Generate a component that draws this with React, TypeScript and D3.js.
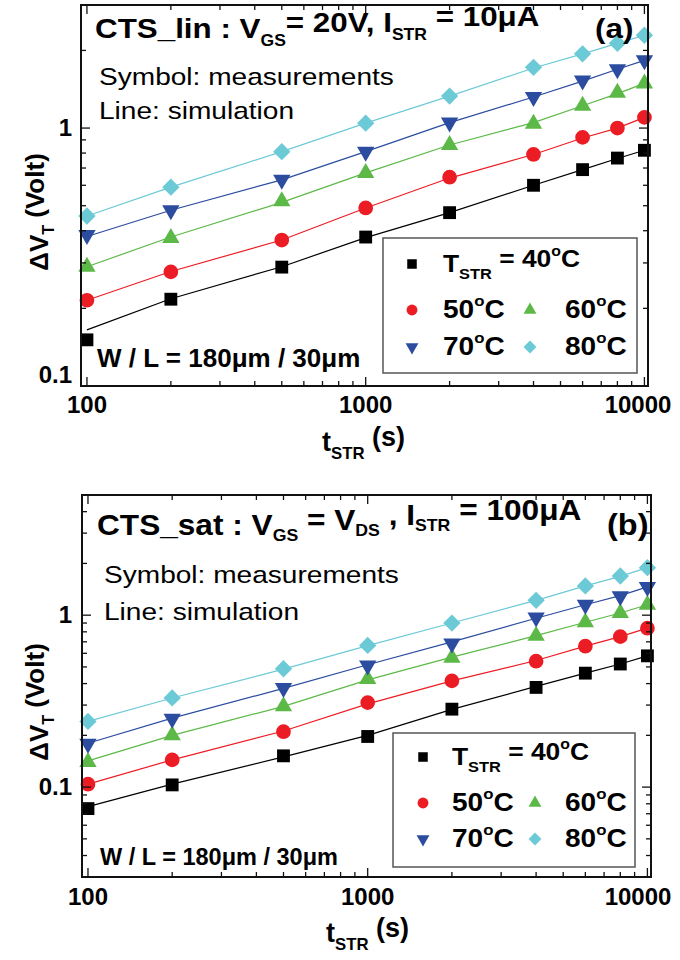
import React from 'react';
import * as d3 from 'd3';

// stress time (s)
const times = [100, 200, 500, 1000, 2000, 4000, 6000, 8000, 10000];
const temps = ['40', '50', '60', '70', '80'];
const colors = ['#000000', '#ec1c24', '#5cb947', '#2b4c9f', '#6ccad6'];
const shapes = ['square', 'circle', 'up', 'down', 'diamond'];

// (a) CTS_lin, measured dVT (V)
const linMeas40 = [0.151, 0.217, 0.289, 0.378, 0.47, 0.6, 0.69, 0.765, 0.82];
const linMeas50 = [0.215, 0.277, 0.368, 0.49, 0.645, 0.79, 0.92, 1.0, 1.1];
const linMeas60 = [0.29, 0.375, 0.52, 0.67, 0.86, 1.04, 1.22, 1.37, 1.49];
const linMeas70 = [0.385, 0.48, 0.63, 0.81, 1.05, 1.32, 1.53, 1.69, 1.83];
const linMeas80 = [0.456, 0.59, 0.81, 1.045, 1.33, 1.72, 1.94, 2.13, 2.29];
// (a) simulation lines
const linSim40 = [0.165, 0.218, 0.29, 0.376, 0.47, 0.6, 0.69, 0.762, 0.82];
const linSim50 = [0.215, 0.278, 0.368, 0.49, 0.64, 0.79, 0.915, 1.0, 1.1];
const linSim60 = [0.29, 0.378, 0.515, 0.67, 0.86, 1.05, 1.22, 1.36, 1.49];
const linSim70 = [0.38, 0.48, 0.63, 0.81, 1.05, 1.32, 1.52, 1.69, 1.83];
const linSim80 = [0.456, 0.59, 0.81, 1.045, 1.33, 1.71, 1.94, 2.13, 2.29];

// (b) CTS_sat, measured dVT (V)
const satMeas40 = [0.075, 0.103, 0.152, 0.197, 0.284, 0.38, 0.46, 0.52, 0.58];
const satMeas50 = [0.104, 0.144, 0.21, 0.31, 0.415, 0.54, 0.66, 0.75, 0.84];
const satMeas60 = [0.14, 0.2, 0.295, 0.426, 0.566, 0.76, 0.91, 1.03, 1.15];
const satMeas70 = [0.179, 0.25, 0.377, 0.51, 0.685, 0.97, 1.15, 1.29, 1.46];
const satMeas80 = [0.241, 0.33, 0.488, 0.667, 0.9, 1.22, 1.48, 1.69, 1.89];
// (b) simulation lines
const satSim40 = [0.077, 0.104, 0.15, 0.2, 0.283, 0.385, 0.46, 0.52, 0.58];
const satSim50 = [0.104, 0.144, 0.212, 0.305, 0.415, 0.545, 0.66, 0.75, 0.84];
const satSim60 = [0.142, 0.2, 0.295, 0.42, 0.57, 0.76, 0.91, 1.03, 1.15];
const satSim70 = [0.18, 0.252, 0.375, 0.515, 0.7, 0.96, 1.15, 1.3, 1.46];
const satSim80 = [0.241, 0.33, 0.485, 0.665, 0.9, 1.22, 1.48, 1.68, 1.89];

const FONT = '"Liberation Sans", Arial, Helvetica, sans-serif';

const symbolPath = (shape, big) => {
  const k = big ? 1 : 0.55;
  if (shape === 'square') return d3.symbol(d3.symbolSquare, 165 * k)();
  if (shape === 'circle') return d3.symbol(d3.symbolCircle, 170 * k)();
  if (shape === 'diamond') return d3.symbol(d3.symbolSquare, 150 * k)();
  return d3.symbol(d3.symbolTriangle, 130 * k)();
};
const symbolRot = shape => (shape === 'down' ? 180 : shape === 'diamond' ? 45 : 0);

const Marker = ({ shape, color, x, y, big = true }) => (
  <path d={symbolPath(shape, big)} fill={color}
    transform={`translate(${x},${y}) rotate(${symbolRot(shape)})`} />
);

const Txt = ({ x, y, sx = 1, size, weight = 'bold', anchor = 'start', children }) => (
  <g transform={`translate(${x},${y}) scale(${sx},1)`}>
    <text fontFamily={FONT} fontSize={size} fontWeight={weight} textAnchor={anchor}>{children}</text>
  </g>
);

const Deg = ({ t }) => (
  <>
    {t}<tspan fontSize="0.6em" dy="-0.8em">o</tspan><tspan dy="0.48em">C</tspan>
  </>
);

const Panel = ({ cfg }) => {
  const { left, right, top, bottom, yDomain, meas, sim } = cfg;
  const x = d3.scaleLog().domain([95.2, 10300]).range([left, right]);
  const y = d3.scaleLog().domain(yDomain).range([bottom, top]);
  const line = d3.line().x(d => x(d[0])).y(d => y(d[1]));
  const isMajor = v => Math.abs(Math.log10(v) - Math.round(Math.log10(v))) < 1e-6;
  const xt = x.ticks().filter(v => v >= 100 && v <= 10000);
  const yt = y.ticks();
  const lg = cfg.legend;

  return (
    <g>
      {sim.map((s, i) => (
        <path key={'l' + i} d={line(times.map((t, j) => [t, s[j]]))} fill="none"
          stroke={colors[i]} strokeWidth={1.2} />
      ))}
      {meas.map((s, i) => s.map((v, j) => (
        <Marker key={`m${i}-${j}`} shape={shapes[i]} color={colors[i]} x={x(times[j])} y={y(v)} />
      )))}

      {/* ticks, inward on all four sides */}
      {xt.map(v => {
        const len = isMajor(v) ? 9 : 5;
        return (
          <g key={'xt' + v} stroke="#111" strokeWidth={1.3}>
            <line x1={x(v)} x2={x(v)} y1={bottom} y2={bottom - len} />
            <line x1={x(v)} x2={x(v)} y1={top} y2={top + len} />
          </g>
        );
      })}
      {yt.map(v => {
        const len = isMajor(v) ? 9 : 5;
        return (
          <g key={'yt' + v} stroke="#111" strokeWidth={1.3}>
            <line x1={left} x2={left + len} y1={y(v)} y2={y(v)} />
            <line x1={right} x2={right - len} y1={y(v)} y2={y(v)} />
          </g>
        );
      })}
      <rect x={left} y={top} width={right - left} height={bottom - top} fill="none" stroke="#111" strokeWidth={2} />

      {/* the last label is pulled in so it stays on the page */}
      {xt.filter(isMajor).map(v => (
        <Txt key={'xl' + v} x={Math.min(x(v), 638)} y={cfg.xLabelY} size={24} anchor="middle">{v}</Txt>
      ))}
      {yt.filter(isMajor).map(v => (
        <Txt key={'yl' + v} x={72} y={Math.min(y(v), bottom - 11) + 8} size={24} anchor="end">{v}</Txt>
      ))}

      {/* axis titles */}
      <Txt x={cfg.xTitle[0]} y={cfg.xTitle[1]} size={27}>
        t<tspan fontSize="0.62em" dy="0.45em">STR</tspan><tspan dy="-0.45em"> (s)</tspan>
      </Txt>
      <g transform={`translate(${cfg.yTitle[0]},${cfg.yTitle[1]}) rotate(-90)`}>
        <text fontFamily={FONT} fontSize={26} fontWeight="bold" textAnchor="middle">
          ΔV<tspan fontSize="0.62em" dy="0.4em">T</tspan><tspan dy="-0.4em"> (Volt)</tspan>
        </text>
      </g>

      {/* annotations */}
      <Txt x={cfg.titleX} y={cfg.titleY} size={cfg.titleSize} sx={cfg.titleSx}>{cfg.title}</Txt>
      <Txt x={cfg.tagX} y={cfg.titleY} size={cfg.titleSize} sx={1.12}>{cfg.tag}</Txt>
      <Txt x={cfg.noteX} y={cfg.noteY[0]} size={24} weight="normal" sx={1.17}>Symbol: measurements</Txt>
      <Txt x={cfg.noteX} y={cfg.noteY[1]} size={24} weight="normal" sx={1.17}>Line: simulation</Txt>
      <Txt x={cfg.wlX} y={cfg.wlY} size={cfg.wlSize}>W / L = 180μm / 30μm</Txt>

      {/* legend */}
      <rect x={lg.x0} y={lg.y0} width={lg.x1 - lg.x0} height={lg.y1 - lg.y0} fill="#fff" stroke="#555" strokeWidth={1.5} />
      <Marker shape={shapes[0]} color={colors[0]} x={lg.sym[0]} y={lg.rows[0]} big={false} />
      <Txt x={lg.txt[0]} y={lg.rows[0] + 8} size={24} sx={1.1}>
        T<tspan fontSize="0.62em" dy="0.5em">STR</tspan><tspan dy="-0.5em"> = </tspan><Deg t={temps[0]} />
      </Txt>
      {[1, 2, 3, 4].map(i => {
        const col = (i - 1) % 2;
        const row = i < 3 ? 1 : 2;
        return (
          <g key={'lg' + i}>
            <Marker shape={shapes[i]} color={colors[i]} x={lg.sym[col]} y={lg.rows[row]} big={false} />
            <Txt x={lg.txt[col]} y={lg.rows[row] + 8} size={25} sx={1.12}><Deg t={temps[i]} /></Txt>
          </g>
        );
      })}
    </g>
  );
};

const panelA = {
  left: 81, right: 648, top: 5, bottom: 386, yDomain: [0.1, 3],
  meas: [linMeas40, linMeas50, linMeas60, linMeas70, linMeas80],
  sim: [linSim40, linSim50, linSim60, linSim70, linSim80],
  xLabelY: 413, xTitle: [322, 451], yTitle: [48, 212],
  title: (
    <>
      CTS_lin : V<tspan fontSize="0.56em" dy="0.5em">GS</tspan>
      <tspan dy="-0.5em">= 20V, I</tspan><tspan fontSize="0.56em" dy="0.5em">STR</tspan>
      <tspan dy="-0.5em"> = 10μA</tspan>
    </>
  ),
  titleX: 95, titleY: 38, titleSize: 28, titleSx: 1.12, tagX: 595, tag: '(a)',
  noteX: 99, noteY: [85, 119],
  wlX: 97, wlY: 367, wlSize: 26,
  legend: { x0: 383, y0: 238, x1: 637, y1: 373, sym: [412, 530], txt: [443, 565], rows: [264, 310, 347] },
};

const panelB = {
  left: 82, right: 651, top: 495, bottom: 877, yDomain: [0.03, 5],
  meas: [satMeas40, satMeas50, satMeas60, satMeas70, satMeas80],
  sim: [satSim40, satSim50, satSim60, satSim70, satSim80],
  xLabelY: 905, xTitle: [326, 942], yTitle: [48, 702],
  title: (
    <>
      CTS_sat : V<tspan fontSize="0.56em" dy="0.38em">GS</tspan>
      <tspan dy="-0.38em"> = V</tspan><tspan fontSize="0.56em" dy="0.38em">DS</tspan>
      <tspan dy="-0.38em"> , I</tspan><tspan fontSize="0.56em" dy="0.38em">STR</tspan>
      <tspan dy="-0.38em"> = 100μA</tspan>
    </>
  ),
  titleX: 97, titleY: 535, titleSize: 29, titleSx: 1.09, tagX: 607, tag: '(b)',
  noteX: 104, noteY: [583, 620],
  wlX: 100, wlY: 865, wlSize: 23.5,
  legend: { x0: 393, y0: 733, x1: 635, y1: 867, sym: [423, 535], txt: [452, 565], rows: [757, 803, 839] },
};

export default function App() {
  return (
    <svg width={680} height={960} style={{ position: 'absolute', left: 0, top: 0, background: '#fff' }}>
      <rect width={680} height={960} fill="#fff" />
      <Panel cfg={panelA} />
      <Panel cfg={panelB} />
    </svg>
  );
}
